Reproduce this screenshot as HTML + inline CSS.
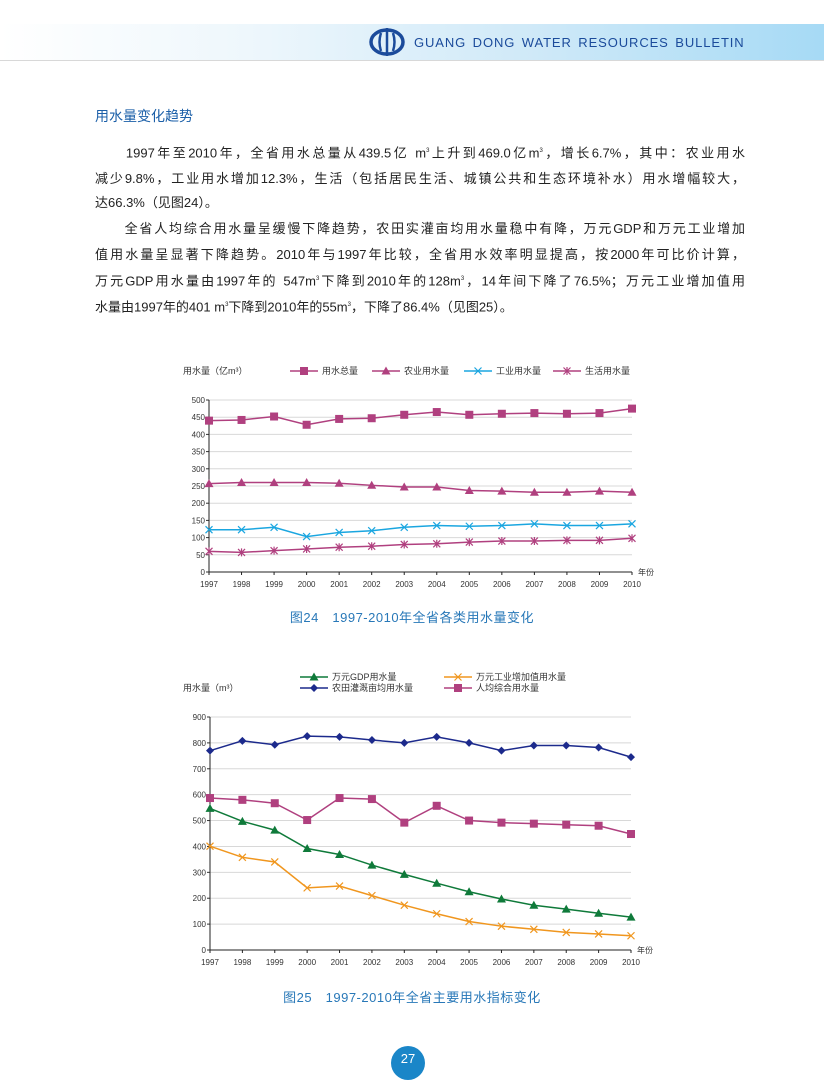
<!DOCTYPE html>
<html><head><meta charset="utf-8"><style>
body{margin:0;width:824px;height:1076px;position:relative;background:#fff;font-family:"Liberation Sans","Noto Sans CJK SC",sans-serif;overflow:hidden}
.hdr{position:absolute;left:0;top:24px;width:824px;height:36px;background:linear-gradient(90deg,#fff 0%,#eef7fc 30%,#cfe9f8 65%,#a6daf5 100%);border-bottom:1px solid #d8d8d8}
.ht{position:absolute;left:414px;top:35px;font-size:13px;color:#1b4b9b;letter-spacing:0.9px;word-spacing:2px}
.p{position:absolute;left:95px;width:650px;font-size:13px;color:#222;line-height:25.6px;text-align:justify;text-align-last:justify}
h3{position:absolute;left:95px;top:106px;margin:0;font-size:14px;font-weight:normal;color:#1b5fa8}
.cap{position:absolute;width:824px;text-align:center;font-size:13px;color:#2878b8;letter-spacing:0.5px}
sup{font-size:6px}
</style></head><body>
<div class="hdr"></div>
<svg style="position:absolute;left:368px;top:27px" width="38" height="30" viewBox="0 0 38 30"><ellipse cx="19" cy="15" rx="16" ry="12" fill="none" stroke="#1b4b9b" stroke-width="3.5"/><line x1="19" y1="1" x2="19" y2="29" stroke="#1b4b9b" stroke-width="2.5"/><path d="M13 6 Q10 15 13 24 M25 6 Q28 15 25 24" fill="none" stroke="#1b4b9b" stroke-width="2.5"/></svg>
<div class="ht">GUANG DONG WATER RESOURCES BULLETIN</div>
<h3>用水量变化趋势</h3>
<div class="p" style="top:139px">　　1997年至2010年，全省用水总量从439.5亿 m<sup>3</sup>上升到469.0亿m<sup>3</sup>，增长6.7%，其中：农业用水<br>减少9.8%，工业用水增加12.3%，生活（包括居民生活、城镇公共和生态环境补水）用水增幅较大，</div>
<div class="p" style="top:190px;text-align-last:left">达66.3%（见图24）。</div>
<div class="p" style="top:216px">　　全省人均综合用水量呈缓慢下降趋势，农田实灌亩均用水量稳中有降，万元GDP和万元工业增加<br>值用水量呈显著下降趋势。2010年与1997年比较，全省用水效率明显提高，按2000年可比价计算，<br>万元GDP用水量由1997年的 547m<sup>3</sup>下降到2010年的128m<sup>3</sup>，14年间下降了76.5%；万元工业增加值用</div>
<div class="p" style="top:293px;text-align-last:left">水量由1997年的401 m<sup>3</sup>下降到2010年的55m<sup>3</sup>，下降了86.4%（见图25）。</div>
<svg id="s" style="position:absolute;left:0;top:0" width="824" height="1076" font-family="Liberation Sans,Noto Sans CJK SC,sans-serif"></svg>
<div class="cap" style="top:607px">图24　1997-2010年全省各类用水量变化</div>
<div class="cap" style="top:987px">图25　1997-2010年全省主要用水指标变化</div>
<div style="position:absolute;left:391px;top:1046px;width:34px;height:34px;border-radius:50%;background:#1a86c8;color:#fff;font-size:13px;text-align:center;line-height:26px">27</div>
<script>
const s=document.getElementById('s');let h='';
function chart(x0,x1,y0,ytop,vmax,step,data){
 const yy=v=>y0-(y0-ytop)*v/vmax, xx=i=>x0+(x1-x0)*i/13;
 for(let v=0;v<=vmax;v+=step){const y=yy(v);if(v>0)h+=`<line x1="${x0}" y1="${y}" x2="${x1}" y2="${y}" stroke="#d8d8d8"/>`;
  h+=`<text x="${x0-4}" y="${y+3}" font-size="8" text-anchor="end" fill="#333">${v}</text>`;
  h+=`<line x1="${x0-3}" y1="${y}" x2="${x0}" y2="${y}" stroke="#333"/>`;}
 h+=`<line x1="${x0}" y1="${ytop}" x2="${x0}" y2="${y0}" stroke="#222"/><line x1="${x0}" y1="${y0}" x2="${x1}" y2="${y0}" stroke="#222"/>`;
 for(let i=0;i<14;i++){h+=`<line x1="${xx(i)}" y1="${y0}" x2="${xx(i)}" y2="${y0+3}" stroke="#222"/><text x="${xx(i)}" y="${y0+15}" font-size="8" text-anchor="middle" fill="#333">${1997+i}</text>`;}
 h+=`<text x="${x1+6}" y="${y0+3}" font-size="8" fill="#333">年份</text>`;
 data.forEach(d=>{h+=`<polyline fill="none" stroke="${d.c}" stroke-width="1.5" points="${d.v.map((v,i)=>xx(i)+','+yy(v)).join(' ')}"/>`;
  d.v.forEach((v,i)=>h+=mk(d.m,xx(i),yy(v),d.c));});
}
function mk(m,x,y,c){
 if(m=='s')return `<rect x="${x-4}" y="${y-4}" width="8" height="8" fill="${c}"/>`;
 if(m=='t')return `<path d="M${x} ${y-4.5}L${x+4.5} ${y+3.5}L${x-4.5} ${y+3.5}Z" fill="${c}"/>`;
 if(m=='d')return `<path d="M${x} ${y-4}L${x+4} ${y}L${x} ${y+4}L${x-4} ${y}Z" fill="${c}"/>`;
 if(m=='x')return `<path d="M${x-3.5} ${y-3.5}L${x+3.5} ${y+3.5}M${x+3.5} ${y-3.5}L${x-3.5} ${y+3.5}" stroke="${c}" stroke-width="1.2"/>`;
 if(m=='a')return `<path d="M${x-3.5} ${y-3.5}L${x+3.5} ${y+3.5}M${x+3.5} ${y-3.5}L${x-3.5} ${y+3.5}M${x} ${y-4}L${x} ${y+4}" stroke="${c}" stroke-width="1.2"/>`;
}
function leg(x,y,m,c,t){h+=`<line x1="${x}" y1="${y}" x2="${x+28}" y2="${y}" stroke="${c}" stroke-width="1.5"/>`+mk(m,x+14,y,c)+`<text x="${x+32}" y="${y+3}" font-size="9" fill="#333">${t}</text>`;}
const P='#b0407f';
chart(209,632,572,400,500,50,[
{c:P,m:'s',v:[440,442,452,428,445,447,457,465,457,460,462,460,462,475]},
{c:P,m:'t',v:[257,260,260,260,258,252,247,247,237,235,232,232,235,232]},
{c:'#1aa6e0',m:'x',v:[123,123,130,103,115,120,130,135,133,135,140,135,135,140]},
{c:P,m:'a',v:[60,57,62,67,72,75,80,82,87,90,90,92,92,98]}]);
h+=`<text x="183" y="374" font-size="9" fill="#333">用水量（亿m³）</text>`;
leg(290,371,'s',P,'用水总量');leg(372,371,'t',P,'农业用水量');leg(464,371,'x','#1aa6e0','工业用水量');leg(553,371,'a',P,'生活用水量');
chart(210,631,950,717,900,100,[
{c:'#1c2a8c',m:'d',v:[770,808,793,826,823,811,800,823,800,770,790,790,782,745]},
{c:P,m:'s',v:[587,580,567,502,587,583,492,557,500,492,488,484,480,448]},
{c:'#0f7a3a',m:'t',v:[547,497,463,392,369,328,292,258,225,197,173,158,142,127]},
{c:'#f0961e',m:'x',v:[401,358,340,240,247,210,173,140,110,92,80,68,62,55]}]);
h+=`<text x="183" y="691" font-size="9" fill="#333">用水量（m³）</text>`;
leg(300,677,'t','#0f7a3a','万元GDP用水量');leg(300,688,'d','#1c2a8c','农田灌溉亩均用水量');leg(444,677,'x','#f0961e','万元工业增加值用水量');leg(444,688,'s',P,'人均综合用水量');
s.innerHTML=h;
</script>
</body></html>
